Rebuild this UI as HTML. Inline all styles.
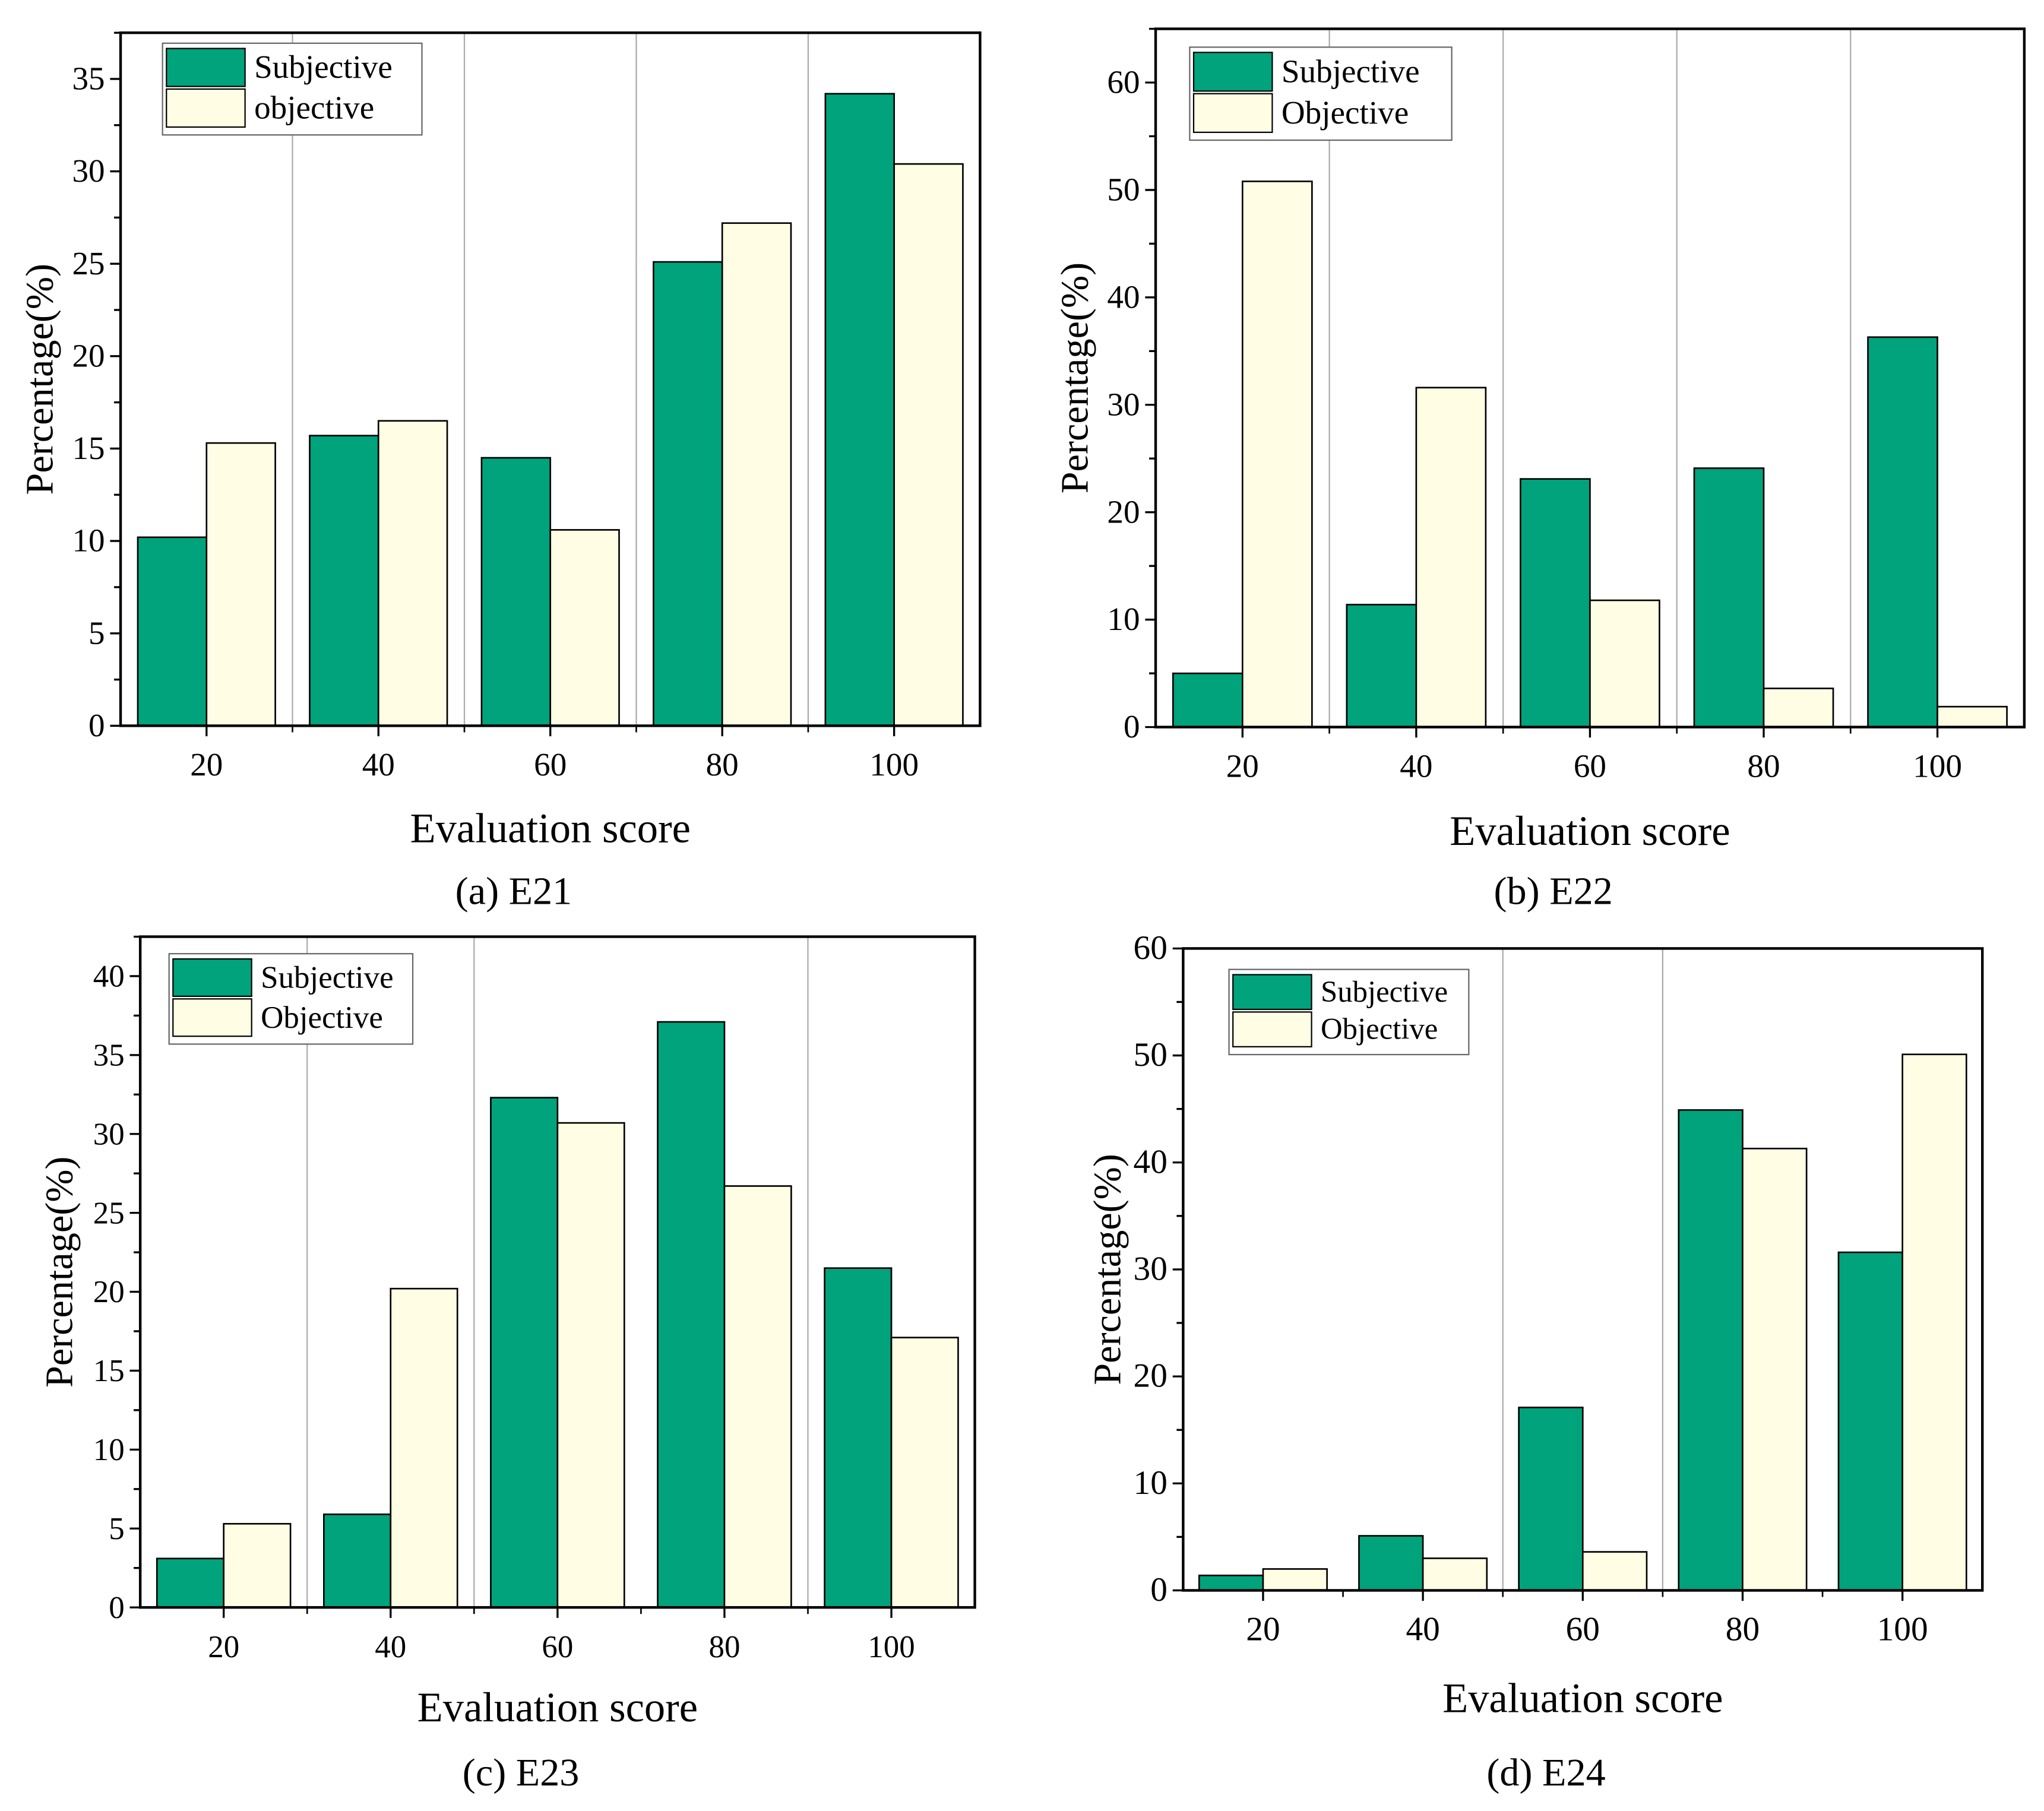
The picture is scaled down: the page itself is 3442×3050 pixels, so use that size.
<!DOCTYPE html>
<html><head><meta charset="utf-8"><style>
html,body{margin:0;padding:0;background:#fff;}
svg{display:block;font-family:"Liberation Serif",serif;}
</style></head><body>
<svg id="fig" width="3442" height="3050" viewBox="0 0 1560 1382.4" xmlns="http://www.w3.org/2000/svg"></svg>
<script>
const categories = [20, 40, 60, 80, 100];
const e21Subjective = [10.2, 15.7, 14.5, 25.1, 34.2];
const e21Objective = [15.3, 16.5, 10.6, 27.2, 30.4];
const e22Subjective = [5.0, 11.4, 23.1, 24.1, 36.3];
const e22Objective = [50.8, 31.6, 11.8, 3.6, 1.9];
const e23Subjective = [3.1, 5.9, 32.3, 37.1, 21.5];
const e23Objective = [5.3, 20.2, 30.7, 26.7, 17.1];
const e24Subjective = [1.4, 5.1, 17.1, 44.9, 31.6];
const e24Objective = [2.0, 3.0, 3.6, 41.3, 50.1];
const e21Ticks = [0,5,10,15,20,25,30,35];
const e22Ticks = [0,10,20,30,40,50,60];
const e23Ticks = [0,5,10,15,20,25,30,35,40];
const e24Ticks = [0,10,20,30,40,50,60];

const NS="http://www.w3.org/2000/svg";
const svg=document.getElementById('fig');
function mk(tag,attrs,parent){const e=document.createElementNS(NS,tag);for(const k in attrs)e.setAttribute(k,attrs[k]);(parent||svg).appendChild(e);return e;}
const GREEN="#00a37b", CREAM="#fffee4";

const panels=[
 {id:'e21',box:[92,25,748,554],ymax:37.5,ticks:e21Ticks,minor:2.5,s:e21Subjective,o:e21Objective,grid:[30,50,70,90],
  legend:[124,33,322,103],labels:['Subjective','objective'],cap:'(a) E21',capY:690,titleY:643,ylabX:40,fs:25,legFs:25},
 {id:'e22',box:[882,22,1545,555],ymax:65,ticks:e22Ticks,minor:5,s:e22Subjective,o:e22Objective,grid:[30,50,70,90],
  legend:[908,36,1108,107],labels:['Subjective','Objective'],cap:'(b) E22',capY:690,titleY:645,ylabX:830,fs:25,legFs:25},
 {id:'e23',box:[107,715,744,1227],ymax:42.5,ticks:e23Ticks,minor:2.5,s:e23Subjective,o:e23Objective,grid:[30,50,90],
  legend:[129,728,315,797],labels:['Subjective','Objective'],cap:'(c) E23',capY:1363,titleY:1314,ylabX:55,fs:24,legFs:24},
 {id:'e24',box:[903,724,1513,1214],ymax:60,ticks:e24Ticks,minor:5,s:e24Subjective,o:e24Objective,grid:[50,70],
  legend:[938,740,1121,805],labels:['Subjective','Objective'],cap:'(d) E24',capY:1363,titleY:1307,ylabX:855,fs:26,legFs:23},
];

panels.forEach(p=>{
 const [x0,y0,x1,y1]=p.box;
 const g=mk('g',{});
 
 
 const xs=v=>x0+(v-10)/100*(x1-x0);
 const ys=v=>y1-v/p.ymax*(y1-y0);
 const bw=(xs(30)-xs(20))*0.8;
 p.grid.forEach(v=>{const l=mk('line',{x1:xs(v),x2:xs(v),y1:y0,y2:y1,stroke:'#aaa','stroke-width':1},g);
  });
 categories.forEach((c,i)=>{
  const b1=mk('rect',{x:xs(c)-bw,y:ys(p.s[i]),width:bw,height:y1-ys(p.s[i]),fill:GREEN,stroke:'#000','stroke-width':1.2},g);
  
  const b2=mk('rect',{x:xs(c),y:ys(p.o[i]),width:bw,height:y1-ys(p.o[i]),fill:CREAM,stroke:'#000','stroke-width':1.2},g);
  
  const xt=mk('line',{x1:xs(c),x2:xs(c),y1:y1,y2:y1+8,stroke:'#000','stroke-width':1.5},g);
  
  const tl=mk('text',{x:xs(c),y:y1+38,'text-anchor':'middle','font-size':p.fs},g);tl.textContent=c;
  
 });
 [30,50,70,90].forEach(v=>{mk('line',{x1:xs(v),x2:xs(v),y1:y1,y2:y1+5,stroke:'#000','stroke-width':1.2},g);});
 for(let v=0;v<=p.ymax+0.001;v+=p.minor){
  const major=p.ticks.includes(v);
  mk('line',{x1:x0-(major?8:5),x2:x0,y1:ys(v),y2:ys(v),stroke:'#000','stroke-width':1.5},g);
 }
 p.ticks.forEach(v=>{const t=mk('text',{x:x0-12,y:ys(v)+8,'text-anchor':'end','font-size':p.fs},g);t.textContent=v;
  });
 const fr=mk('rect',{x:x0,y:y0,width:x1-x0,height:y1-y0,fill:'none',stroke:'#000','stroke-width':2},g);
 
 const cy=(y0+y1)/2;
 const yt=mk('text',{x:p.ylabX,y:cy,'text-anchor':'middle','font-size':30,transform:`rotate(-90 ${p.ylabX} ${cy})`},g);
 yt.textContent='Percentage(%)';
 const xt=mk('text',{x:(x0+x1)/2,y:p.titleY,'text-anchor':'middle','font-size':32},g);
 xt.textContent='Evaluation score';
 const cp=mk('text',{x:(x0+x1)/2-28,y:p.capY,'text-anchor':'middle','font-size':30},g);
 cp.textContent=p.cap;
 const [lx0,ly0,lx1,ly1]=p.legend;
 const lg=mk('g',{},g);
 mk('rect',{x:lx0,y:ly0,width:lx1-lx0,height:ly1-ly0,fill:'#fff',stroke:'#666','stroke-width':1},lg);
 const rh=(ly1-ly0-8)/2;
 [[GREEN,p.labels[0]],[CREAM,p.labels[1]]].forEach((e,i)=>{
  const ry=ly0+4+i*rh;
  const sw=mk('rect',{x:lx0+3,y:ry,width:60,height:rh-2,fill:e[0],stroke:'#000','stroke-width':1},lg);
  
  const t=mk('text',{x:lx0+70,y:ry+rh*0.72,'font-size':p.legFs},lg);t.textContent=e[1];
  
 });
});
</script>
</body></html>
